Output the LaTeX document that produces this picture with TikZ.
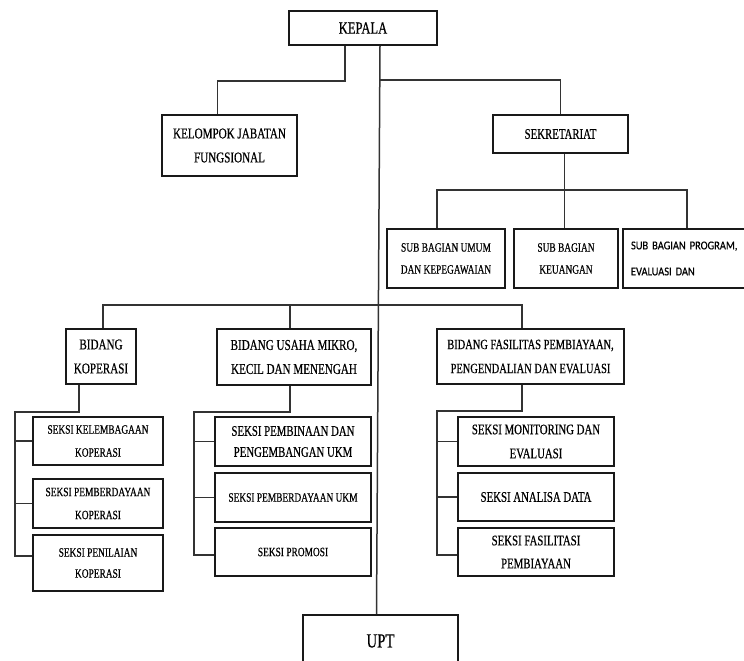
\documentclass[tikz,border=0pt]{standalone}
\usepackage{fontspec}
\setmainfont{Liberation Serif}[FakeStretch=0.74, FakeBold=0.5]
\newfontfamily\sansnarrow{Carlito}[FakeStretch=0.87, FakeBold=0.3]
\usepackage{xcolor}
\usetikzlibrary{positioning,calc}
\newcommand{\fsmall}{\fontsize{12.7}{22}\selectfont}
\newcommand{\fmid}{\fontsize{14.6}{23}\selectfont}
\newcommand{\fbig}{\fontsize{15}{24}\selectfont}
\tikzset{
  unit/.style={draw=black!90, line width=1.6pt, fill=white, inner sep=0pt, align=center},
  link/.style={draw=black!80, line width=1.5pt},
}

\begin{document}
\begin{tikzpicture}[x=1pt, y=-1pt]
  \useasboundingbox (0,0) rectangle (744,661);

  % --- Top: kepala, fungsional, sekretariat ---
  \node[unit, minimum width=148pt, minimum height=34pt, font=\fontsize{17}{20}\selectfont] (kepala) at (363,28) {KEPALA};
  \node[unit, minimum width=135pt, minimum height=61pt, font=\fbig] (kjf) at (229.5,145.5) {KELOMPOK JABATAN\\FUNGSIONAL};
  \node[unit, minimum width=135pt, minimum height=38pt, font=\fmid] (sekre) at (560.5,134) {SEKRETARIAT};

  % --- Sub bagian ---
  \node[unit, minimum width=118pt, minimum height=59pt, font=\fsmall] (subumum) at (446,258.5) {SUB BAGIAN UMUM\\DAN KEPEGAWAIAN};
  \node[unit, minimum width=104pt, minimum height=59pt, font=\fsmall] (subkeu) at (566,258.5) {SUB BAGIAN\\KEUANGAN};
  \node[unit, minimum width=124pt, minimum height=59pt, inner xsep=8pt, text width=108pt, align=left,
        font=\sansnarrow\fontsize{12}{26}\selectfont] (subprog) at (685,258.5) {SUB BAGIAN PROGRAM,\\EVALUASI DAN};

  % --- Bidang ---
  \node[unit, minimum width=70pt, minimum height=55pt, font=\fbig] (bk) at (101,356.5) {BIDANG\\KOPERASI};
  \node[unit, minimum width=154pt, minimum height=56pt, font=\fbig] (bumkm) at (294,357) {BIDANG USAHA MIKRO,\\KECIL DAN MENENGAH};
  \node[unit, minimum width=187pt, minimum height=55pt, font=\fontsize{14.1}{24}\selectfont] (bfp) at (530.5,356.5) {BIDANG FASILITAS PEMBIAYAAN,\\PENGENDALIAN DAN EVALUASI};

  % --- Seksi under koperasi ---
  \node[unit, minimum width=130pt, minimum height=48pt, font=\fontsize{12.7}{23}\selectfont] (sk1) at (98,441) {SEKSI KELEMBAGAAN\\KOPERASI};
  \node[unit, minimum width=130pt, minimum height=49pt, font=\fontsize{12.7}{23}\selectfont] (sk2) at (98,503.5) {SEKSI PEMBERDAYAAN\\KOPERASI};
  \node[unit, minimum width=130pt, minimum height=56pt, font=\fontsize{12.7}{21}\selectfont] (sk3) at (98,563) {SEKSI PENILAIAN\\KOPERASI};

  % --- Seksi under UMKM ---
  \node[unit, minimum width=156pt, minimum height=49pt, font=\fontsize{14.6}{21}\selectfont] (su1) at (293,441.5) {SEKSI PEMBINAAN DAN\\PENGEMBANGAN UKM};
  \node[unit, minimum width=156pt, minimum height=49pt, font=\fsmall] (su2) at (293,497.5) {SEKSI PEMBERDAYAAN UKM};
  \node[unit, minimum width=156pt, minimum height=48pt, font=\fsmall] (su3) at (293,552) {SEKSI PROMOSI};

  % --- Seksi under fasilitas pembiayaan ---
  \node[unit, minimum width=156pt, minimum height=49pt, font=\fontsize{14.6}{24}\selectfont] (sf1) at (536,441.5) {SEKSI MONITORING DAN\\EVALUASI};
  \node[unit, minimum width=156pt, minimum height=48pt, font=\fmid] (sf2) at (536,497) {SEKSI ANALISA DATA};
  \node[unit, minimum width=156pt, minimum height=48pt, font=\fmid] (sf3) at (536,552) {SEKSI FASILITASI\\PEMBIAYAAN};

  % --- UPT (cut at the bottom edge) ---
  \node[unit, minimum width=155pt, minimum height=52pt, font=\fontsize{20}{24}\selectfont] (upt) at (380.5,641) {UPT};

  % --- Connectors ---
  \draw[link] ([xshift=-18pt]kepala.south) -- ++(0,35) -| ([xshift=-12pt]kjf.north);
  \draw[link] ([xshift=17pt]kepala.south) -- ([xshift=-4pt]upt.north);
  \coordinate (topjoin) at (380,80);
  \draw[link] (topjoin) -| (sekre.north);

  \draw[link] ([xshift=4pt]sekre.south) -- ++(0,36) coordinate (subjoin);
  \draw[link] ([xshift=-9pt]subumum.north) |- (subjoin) -| ([xshift=2pt]subprog.north);
  \draw[link] (subjoin) -- (subjoin |- subkeu.north);

  \coordinate (midjoin) at (378,305);
  \draw[link] ([xshift=2pt]bk.north) |- (midjoin) -| ([xshift=-8.5pt]bfp.north);
  \draw[link] ([xshift=-4pt]bumkm.north) -- ++(0,-24);

  % combs
  \coordinate (kspine) at (15,412);
  \draw[link] ([xshift=-22pt]bk.south) |- (kspine) |- ([yshift=7pt]sk3.west);
  \foreach \s in {sk1,sk2}
    \draw[link] (kspine |- \s.west) -- (\s.west);

  \coordinate (uspine) at (194,412);
  \draw[link] ([xshift=-4pt]bumkm.south) |- (uspine) |- ([yshift=-3pt]su3.west);
  \foreach \s in {su1,su2}
    \draw[link] (uspine |- \s.west) -- (\s.west);

  \coordinate (fspine) at (437,411);
  \draw[link] ([xshift=-8.5pt]bfp.south) |- (fspine) |- ([yshift=-3pt]sf3.west);
  \foreach \s in {sf1,sf2}
    \draw[link] (fspine |- \s.west) -- (\s.west);
\end{tikzpicture}
\end{document}
